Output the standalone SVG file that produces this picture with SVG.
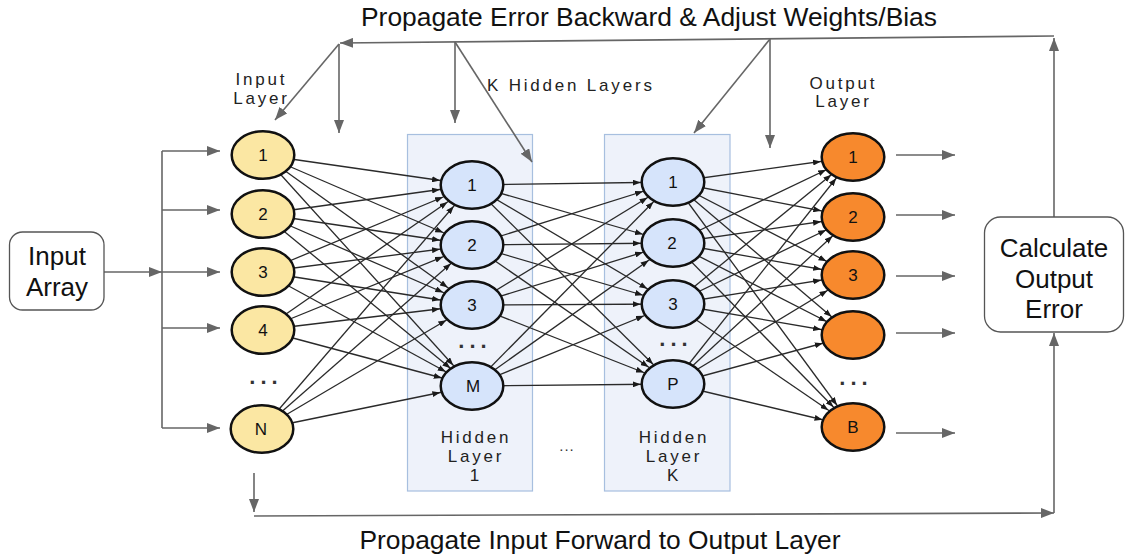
<svg xmlns="http://www.w3.org/2000/svg" width="1129" height="558" viewBox="0 0 1129 558">
<style>
text { font-family: "Liberation Sans", Arial, sans-serif; fill: #111; }
.title { font-size: 26.4px; text-anchor: middle; }
.box { font-size: 26px; text-anchor: middle; }
.lbl { font-size: 17px; letter-spacing: 2.8px; text-anchor: middle; fill: #222; }
.num { font-size: 17px; text-anchor: middle; fill: #111; }
.dots { font-size: 22px; font-weight: bold; letter-spacing: 5px; text-anchor: middle; fill: #333; }
.inN { fill: #FBE7A3; stroke: #111; stroke-width: 2.5; }
.hidN { fill: #D6E4FB; stroke: #111; stroke-width: 2.5; }
.outN { fill: #F7892D; stroke: #111; stroke-width: 2.5; }
.layer { fill: #EEF2FA; stroke: #A7BFDF; stroke-width: 1.2; }
.rbox { fill: #fff; stroke: #555; stroke-width: 1.3; }
.e { stroke: #2a2a2a; stroke-width: 1.3; fill: none; }
.eA { marker-end: url(#aA); }
.eB { marker-end: url(#aB); }
.eC { marker-end: url(#aC); }
.eD { marker-end: url(#aD); }
.eE { marker-end: url(#aE); }
.g { stroke: #666; stroke-width: 1.6; fill: none; marker-end: url(#ga); }
</style>
<defs>
<marker id="aA" markerUnits="userSpaceOnUse" markerWidth="8" markerHeight="6" refX="40.3" refY="3" orient="auto"><path d="M0,0 L8,3 L0,6 z" fill="#1a1a1a"/></marker>
<marker id="aB" markerUnits="userSpaceOnUse" markerWidth="8" markerHeight="6" refX="39.3" refY="3" orient="auto"><path d="M0,0 L8,3 L0,6 z" fill="#1a1a1a"/></marker>
<marker id="aC" markerUnits="userSpaceOnUse" markerWidth="8" markerHeight="6" refX="37.8" refY="3" orient="auto"><path d="M0,0 L8,3 L0,6 z" fill="#1a1a1a"/></marker>
<marker id="aD" markerUnits="userSpaceOnUse" markerWidth="8" markerHeight="6" refX="36" refY="3" orient="auto"><path d="M0,0 L8,3 L0,6 z" fill="#1a1a1a"/></marker>
<marker id="aE" markerUnits="userSpaceOnUse" markerWidth="8" markerHeight="6" refX="35" refY="3" orient="auto"><path d="M0,0 L8,3 L0,6 z" fill="#1a1a1a"/></marker>
<marker id="ga" markerUnits="userSpaceOnUse" markerWidth="13" markerHeight="10" refX="13" refY="5" orient="auto"><path d="M0,0 L13,5 L0,10 z" fill="#666"/></marker>
</defs>

<rect width="1129" height="558" fill="#fff"/>

<g id="layer-boxes">
<rect id="hidden-layer-1-box" class="layer" x="407.5" y="134.5" width="125" height="356.5"/>
<rect id="hidden-layer-k-box" class="layer" x="604.5" y="134.5" width="125.5" height="356.5"/>
</g>

<g id="connectors">
<!-- input layer to hidden layer 1 -->
<line class="e eA" x1="263" y1="155" x2="472" y2="185"/>
<line class="e eB" x1="263" y1="155" x2="472" y2="245"/>
<line class="e eC" x1="263" y1="155" x2="472" y2="305"/>
<line class="e eD" x1="263" y1="155" x2="472" y2="386"/>
<line class="e eA" x1="263" y1="214" x2="472" y2="185"/>
<line class="e eA" x1="263" y1="214" x2="472" y2="245"/>
<line class="e eB" x1="263" y1="214" x2="472" y2="305"/>
<line class="e eD" x1="263" y1="214" x2="472" y2="386"/>
<line class="e eB" x1="263" y1="272" x2="472" y2="185"/>
<line class="e eA" x1="263" y1="272" x2="472" y2="245"/>
<line class="e eA" x1="263" y1="272" x2="472" y2="305"/>
<line class="e eC" x1="263" y1="272" x2="472" y2="386"/>
<line class="e eC" x1="263" y1="330" x2="472" y2="185"/>
<line class="e eB" x1="263" y1="330" x2="472" y2="245"/>
<line class="e eA" x1="263" y1="330" x2="472" y2="305"/>
<line class="e eB" x1="263" y1="330" x2="472" y2="386"/>
<line class="e eD" x1="262" y1="429" x2="472" y2="185"/>
<line class="e eD" x1="262" y1="429" x2="472" y2="245"/>
<line class="e eC" x1="262" y1="429" x2="472" y2="305"/>
<line class="e eA" x1="262" y1="429" x2="472" y2="386"/>
<!-- hidden layer 1 to hidden layer K -->
<line class="e eA" x1="472" y1="185" x2="673" y2="182"/>
<line class="e eB" x1="472" y1="185" x2="673" y2="243"/>
<line class="e eC" x1="472" y1="185" x2="673" y2="304"/>
<line class="e eD" x1="472" y1="185" x2="673" y2="384"/>
<line class="e eB" x1="472" y1="245" x2="673" y2="182"/>
<line class="e eA" x1="472" y1="245" x2="673" y2="243"/>
<line class="e eB" x1="472" y1="245" x2="673" y2="304"/>
<line class="e eC" x1="472" y1="245" x2="673" y2="384"/>
<line class="e eC" x1="472" y1="305" x2="673" y2="182"/>
<line class="e eB" x1="472" y1="305" x2="673" y2="243"/>
<line class="e eA" x1="472" y1="305" x2="673" y2="304"/>
<line class="e eB" x1="472" y1="305" x2="673" y2="384"/>
<line class="e eD" x1="472" y1="386" x2="673" y2="182"/>
<line class="e eC" x1="472" y1="386" x2="673" y2="243"/>
<line class="e eB" x1="472" y1="386" x2="673" y2="304"/>
<line class="e eA" x1="472" y1="386" x2="673" y2="384"/>
<!-- hidden layer K to output layer -->
<line class="e eA" x1="673" y1="182" x2="853" y2="157"/>
<line class="e eA" x1="673" y1="182" x2="853" y2="217"/>
<line class="e eC" x1="673" y1="182" x2="853" y2="275"/>
<line class="e eD" x1="673" y1="182" x2="853" y2="335"/>
<line class="e eE" x1="673" y1="182" x2="853" y2="427"/>
<line class="e eC" x1="673" y1="243" x2="853" y2="157"/>
<line class="e eA" x1="673" y1="243" x2="853" y2="217"/>
<line class="e eA" x1="673" y1="243" x2="853" y2="275"/>
<line class="e eC" x1="673" y1="243" x2="853" y2="335"/>
<line class="e eD" x1="673" y1="243" x2="853" y2="427"/>
<line class="e eD" x1="673" y1="304" x2="853" y2="157"/>
<line class="e eC" x1="673" y1="304" x2="853" y2="217"/>
<line class="e eA" x1="673" y1="304" x2="853" y2="275"/>
<line class="e eA" x1="673" y1="304" x2="853" y2="335"/>
<line class="e eC" x1="673" y1="304" x2="853" y2="427"/>
<line class="e eE" x1="673" y1="384" x2="853" y2="157"/>
<line class="e eD" x1="673" y1="384" x2="853" y2="217"/>
<line class="e eC" x1="673" y1="384" x2="853" y2="275"/>
<line class="e eB" x1="673" y1="384" x2="853" y2="335"/>
<line class="e eB" x1="673" y1="384" x2="853" y2="427"/>
<!-- input array fan-out -->
<line class="g" x1="104" y1="272" x2="162" y2="272"/>
<line x1="162" y1="151" x2="162" y2="428" stroke="#666" stroke-width="1.6"/>
<line class="g" x1="162" y1="151" x2="220" y2="151"/>
<line class="g" x1="162" y1="210" x2="220" y2="210"/>
<line class="g" x1="162" y1="272" x2="220" y2="272"/>
<line class="g" x1="162" y1="328" x2="220" y2="328"/>
<line class="g" x1="162" y1="428" x2="220" y2="428"/>
<!-- output arrows -->
<line class="g" x1="896" y1="155" x2="955" y2="155"/>
<line class="g" x1="896" y1="215" x2="955" y2="215"/>
<line class="g" x1="896" y1="276" x2="955" y2="276"/>
<line class="g" x1="896" y1="333" x2="955" y2="333"/>
<line class="g" x1="896" y1="433" x2="955" y2="433"/>
<!-- forward propagation -->
<line class="g" x1="254" y1="473" x2="254" y2="512"/>
<line class="g" x1="254" y1="516" x2="1054" y2="513"/>
<line class="g" x1="1054" y1="513" x2="1054" y2="333"/>
<!-- backward propagation -->
<line class="g" x1="1054" y1="217" x2="1054" y2="38"/>
<line class="g" x1="1054" y1="36" x2="340" y2="43"/>
<line class="g" x1="339" y1="44" x2="339" y2="133"/>
<line class="g" x1="339" y1="44" x2="275" y2="120"/>
<line class="g" x1="455" y1="42" x2="455" y2="123"/>
<line class="g" x1="455" y1="42" x2="532" y2="162"/>
<line class="g" x1="770" y1="39" x2="770" y2="148"/>
<line class="g" x1="770" y1="39" x2="694" y2="133"/>
</g>

<g id="input-array">
<rect class="rbox" x="9.5" y="232" width="94.5" height="78" rx="13"/>
<text class="box" x="57" y="265">Input</text>
<text class="box" x="57" y="296">Array</text>
</g>

<g id="calculate-output-error">
<rect class="rbox" x="984.5" y="217" width="139" height="115" rx="16"/>
<text class="box" x="1054" y="257">Calculate</text>
<text class="box" x="1054" y="288">Output</text>
<text class="box" x="1054" y="318">Error</text>
</g>

<g id="input-layer">
<text class="lbl" x="261.4" y="85">Input</text>
<text class="lbl" x="261.4" y="104">Layer</text>
<g id="in-1"><ellipse class="inN" cx="263" cy="155" rx="31.3" ry="23.8"/><text class="num" x="263" y="161">1</text></g>
<g id="in-2"><ellipse class="inN" cx="263" cy="214" rx="31.3" ry="23.8"/><text class="num" x="263" y="220">2</text></g>
<g id="in-3"><ellipse class="inN" cx="263" cy="272" rx="31.3" ry="23.8"/><text class="num" x="263" y="278">3</text></g>
<g id="in-4"><ellipse class="inN" cx="263" cy="330" rx="31.3" ry="23.8"/><text class="num" x="263" y="336">4</text></g>
<text class="dots" x="266" y="384">...</text>
<g id="in-N"><ellipse class="inN" cx="262" cy="429" rx="31.3" ry="23.8"/><text class="num" x="261" y="435">N</text></g>
</g>

<g id="hidden-layer-1">
<g id="h1-1"><ellipse class="hidN" cx="472" cy="185" rx="31.3" ry="23.8"/><text class="num" x="472" y="191">1</text></g>
<g id="h1-2"><ellipse class="hidN" cx="472" cy="245" rx="31.3" ry="23.8"/><text class="num" x="472" y="251">2</text></g>
<g id="h1-3"><ellipse class="hidN" cx="472" cy="305" rx="31.3" ry="23.8"/><text class="num" x="472" y="311">3</text></g>
<text class="dots" x="475" y="348">...</text>
<g id="h1-M"><ellipse class="hidN" cx="472" cy="386" rx="31.3" ry="23.8"/><text class="num" x="473" y="392">M</text></g>
<text class="lbl" x="476" y="443">Hidden</text>
<text class="lbl" x="476" y="462">Layer</text>
<text class="lbl" x="476" y="481">1</text>
</g>

<text id="k-hidden-layers" class="lbl" x="487" y="91" style="text-anchor:start">K Hidden Layers</text>
<text id="between-dots" x="567" y="451" style="font-size:15px;letter-spacing:1px;text-anchor:middle;fill:#333">...</text>

<g id="hidden-layer-k">
<g id="hk-1"><ellipse class="hidN" cx="673" cy="182" rx="31.3" ry="23.8"/><text class="num" x="673" y="188">1</text></g>
<g id="hk-2"><ellipse class="hidN" cx="673" cy="243" rx="31.3" ry="23.8"/><text class="num" x="672" y="249">2</text></g>
<g id="hk-3"><ellipse class="hidN" cx="673" cy="304" rx="31.3" ry="23.8"/><text class="num" x="673" y="310">3</text></g>
<text class="dots" x="676" y="346">...</text>
<g id="hk-P"><ellipse class="hidN" cx="673" cy="384" rx="31.3" ry="23.8"/><text class="num" x="673" y="390">P</text></g>
<text class="lbl" x="674" y="443">Hidden</text>
<text class="lbl" x="674" y="462">Layer</text>
<text class="lbl" x="674" y="481">K</text>
</g>

<g id="output-layer">
<text class="lbl" x="843.4" y="89">Output</text>
<text class="lbl" x="843.4" y="107">Layer</text>
<g id="out-1"><ellipse class="outN" cx="853" cy="157" rx="31.3" ry="23.8"/><text class="num" x="853" y="163">1</text></g>
<g id="out-2"><ellipse class="outN" cx="853" cy="217" rx="31.3" ry="23.8"/><text class="num" x="853" y="223">2</text></g>
<g id="out-3"><ellipse class="outN" cx="853" cy="275" rx="31.3" ry="23.8"/><text class="num" x="853" y="281">3</text></g>
<g id="out-4"><ellipse class="outN" cx="853" cy="335" rx="31.3" ry="23.8"/></g>
<text class="dots" x="856" y="385">...</text>
<g id="out-B"><ellipse class="outN" cx="853" cy="427" rx="31.3" ry="23.8"/><text class="num" x="853" y="433">B</text></g>
</g>

<text id="title-top" class="title" x="649" y="26">Propagate Error Backward &amp; Adjust Weights/Bias</text>
<text id="title-bottom" class="title" x="600" y="549">Propagate Input Forward to Output Layer</text>
</svg>
